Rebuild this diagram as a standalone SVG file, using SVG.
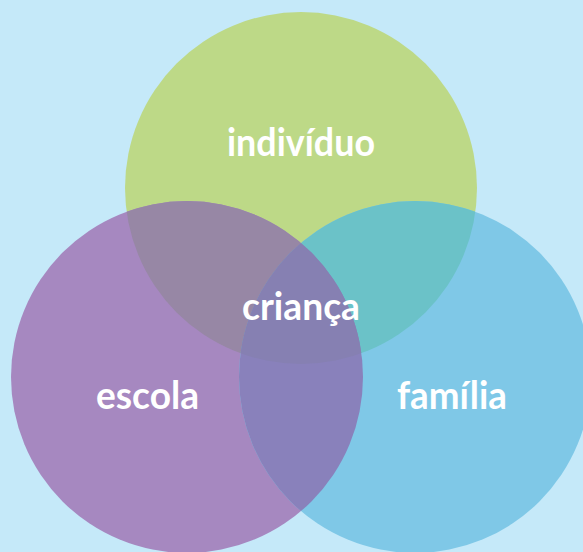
<svg xmlns="http://www.w3.org/2000/svg" width="583" height="552" viewBox="0 0 583 552">
  <defs>
    <clipPath id="cG"><circle cx="301" cy="188" r="176"/></clipPath>
    <clipPath id="cP"><circle cx="187" cy="377" r="176"/></clipPath>
    <clipPath id="cB"><circle cx="415" cy="377" r="176"/></clipPath>
    <style>
      .lbl { font-family: Lato, "Open Sans", "Noto Sans", sans-serif; font-weight: 700; font-size: 39px; fill: #ffffff; text-anchor: middle; }
    </style>
  </defs>
  <rect x="0" y="0" width="583" height="552" fill="#c5e9f9"/>
  <g id="individuo-circle">
    <circle cx="301" cy="188" r="176" fill="#bdd987"/>
  </g>
  <g id="escola-circle">
    <circle cx="187" cy="377" r="176" fill="#a688c0"/>
  </g>
  <g id="familia-circle">
    <circle cx="415" cy="377" r="176" fill="#7fc8e7"/>
  </g>
  <g id="overlaps">
    <g clip-path="url(#cG)"><circle cx="187" cy="377" r="176" fill="#9787a5"/></g>
    <g clip-path="url(#cG)"><circle cx="415" cy="377" r="176" fill="#6bc2c8"/></g>
    <g clip-path="url(#cP)"><circle cx="415" cy="377" r="176" fill="#8981bb"/></g>
    <g clip-path="url(#cG)"><g clip-path="url(#cP)"><circle cx="415" cy="377" r="176" fill="#8680b2"/></g></g>
  </g>
  <g id="labels">
    <text id="t-individuo" class="lbl" x="301" y="156" textLength="148" lengthAdjust="spacingAndGlyphs">indivíduo</text>
    <text id="t-crianca" class="lbl" x="301" y="320" textLength="118" lengthAdjust="spacingAndGlyphs">criança</text>
    <text id="t-escola" class="lbl" x="147.5" y="409" textLength="103" lengthAdjust="spacingAndGlyphs">escola</text>
    <text id="t-familia" class="lbl" x="452" y="409" textLength="110" lengthAdjust="spacingAndGlyphs">família</text>
  </g>
</svg>
